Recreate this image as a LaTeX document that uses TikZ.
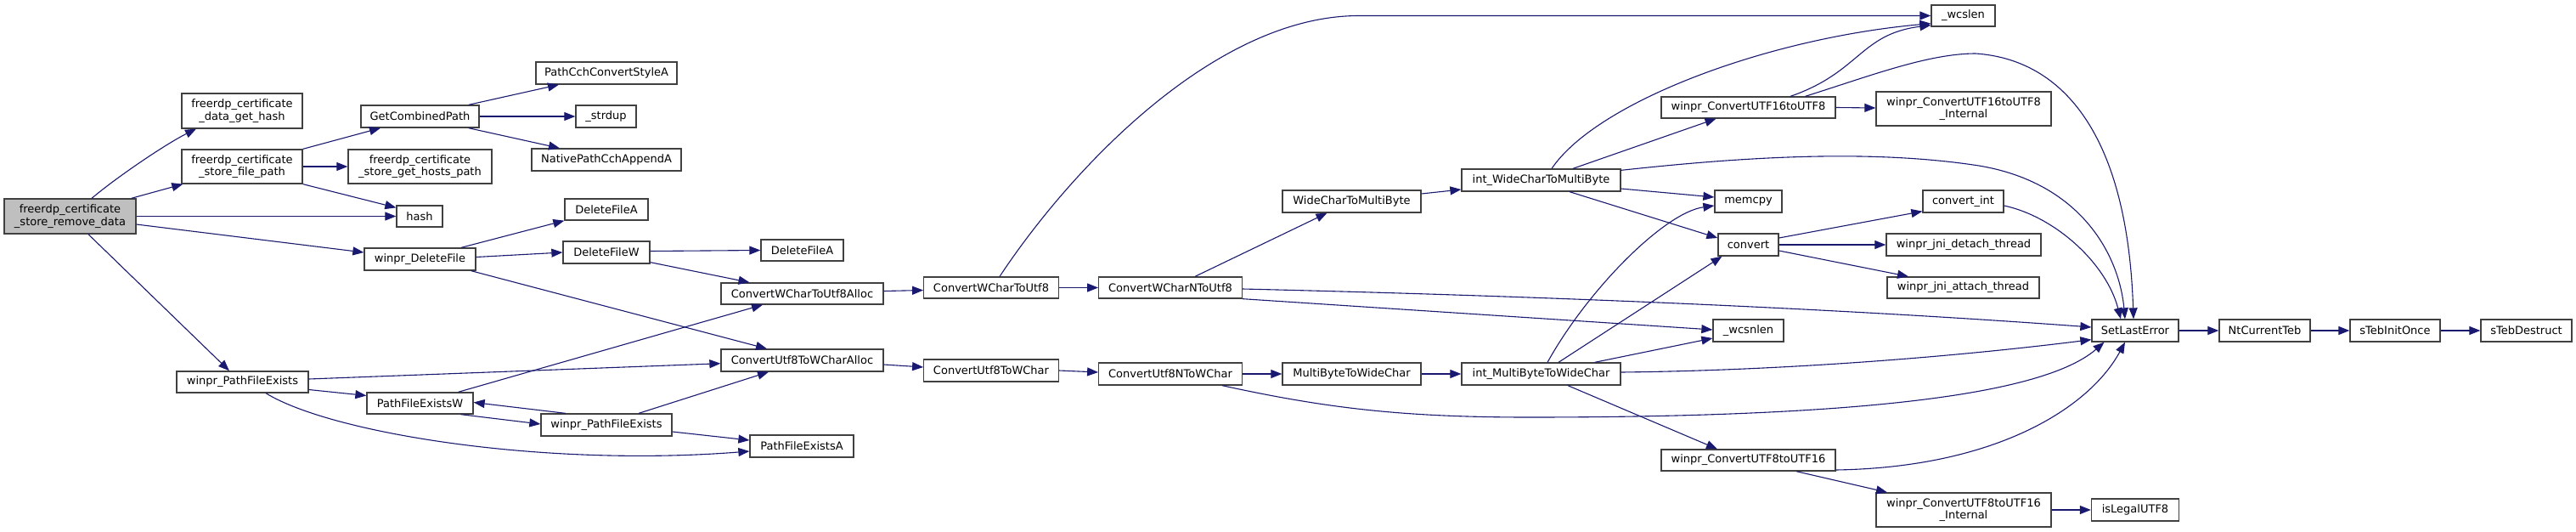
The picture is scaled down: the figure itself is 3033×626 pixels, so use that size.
\documentclass[tikz,border=0pt]{standalone}
\usepackage{fontspec}
\setmainfont{DejaVu Sans}
\usetikzlibrary{arrows.meta}
\definecolor{edgecol}{HTML}{191970}
\definecolor{bordercol}{HTML}{404040}
\definecolor{mainfill}{HTML}{BFBFBF}
\begin{document}
\begin{tikzpicture}[x=1pt,y=-1pt,
  box/.style={draw=bordercol, line width=1.3pt, fill=white, inner sep=0pt, align=center, font=\fontsize{13}{14.5}\selectfont},
  mainbox/.style={box, fill=mainfill},
  edge/.style={draw=edgecol, line width=1.1pt, -{Triangle[length=13pt,width=10pt]}},
]
\useasboundingbox (0,0) rectangle (3033,626);
% nodes
\node[mainbox, minimum width=155pt, minimum height=41pt] (main) at (82.5,254.5) {freerdp\_certificate\\\_store\_remove\_data};
\node[box, minimum width=142pt, minimum height=41pt] (dgh) at (285,130.5) {freerdp\_certificate\\\_data\_get\_hash};
\node[box, minimum width=142pt, minimum height=40pt] (sfp) at (285,196) {freerdp\_certificate\\\_store\_file\_path};
\node[box, minimum width=169pt, minimum height=40pt] (hosts) at (494.5,196) {freerdp\_certificate\\\_store\_get\_hosts\_path};
\node[box, minimum width=139pt, minimum height=26pt] (gcp) at (494.5,137) {GetCombinedPath};
\node[box, minimum width=54pt, minimum height=25pt] (hash) at (494,254.5) {hash};
\node[box, minimum width=131pt, minimum height=26pt] (wdf) at (494.5,305) {winpr\_DeleteFile};
\node[box, minimum width=155pt, minimum height=25pt] (wpfel) at (285.5,449.5) {winpr\_PathFileExists};
\node[box, minimum width=166pt, minimum height=26pt] (pcc) at (714,86) {PathCchConvertStyleA};
\node[box, minimum width=71pt, minimum height=26pt] (strdup) at (713.5,137) {\_strdup};
\node[box, minimum width=176pt, minimum height=26pt] (npa) at (714,188) {NativePathCchAppendA};
\node[box, minimum width=98pt, minimum height=25pt] (dfa1) at (714,246.5) {DeleteFileA};
\node[box, minimum width=102pt, minimum height=26pt] (dfw) at (714,297) {DeleteFileW};
\node[box, minimum width=125pt, minimum height=25pt] (pfew) at (494.5,474.5) {PathFileExistsW};
\node[box, minimum width=154pt, minimum height=26pt] (wpfer) at (714,500) {winpr\_PathFileExists};
\node[box, minimum width=97pt, minimum height=25pt] (dfa2) at (944.5,294.5) {DeleteFileA};
\node[box, minimum width=191pt, minimum height=25pt] (wua) at (944.5,345.5) {ConvertWCharToUtf8Alloc};
\node[box, minimum width=191pt, minimum height=26pt] (uwa) at (944.5,424) {ConvertUtf8ToWCharAlloc};
\node[box, minimum width=122pt, minimum height=26pt] (pfea) at (944,525) {PathFileExistsA};
\node[box, minimum width=158.5pt, minimum height=25pt] (wu) at (1167,338.5) {ConvertWCharToUtf8};
\node[box, minimum width=158.5pt, minimum height=26pt] (uw) at (1167,436) {ConvertUtf8ToWChar};
\node[box, minimum width=168.5pt, minimum height=25pt] (wnu) at (1378,338.5) {ConvertWCharNToUtf8};
\node[box, minimum width=168.5pt, minimum height=26pt] (unw) at (1378,440) {ConvertUtf8NToWChar};
\node[box, minimum width=163pt, minimum height=26pt] (wcmb) at (1591.5,237) {WideCharToMultiByte};
\node[box, minimum width=163pt, minimum height=26pt] (mbwc) at (1591.5,440) {MultiByteToWideChar};
\node[box, minimum width=187pt, minimum height=26pt] (iwc) at (1814.5,212) {int\_WideCharToMultiByte};
\node[box, minimum width=187pt, minimum height=26pt] (imb) at (1814.5,440) {int\_MultiByteToWideChar};
\node[box, minimum width=75pt, minimum height=25pt] (wcslen) at (2311.5,18.5) {\_wcslen};
\node[box, minimum width=205pt, minimum height=25pt] (c16) at (2058.5,126.5) {winpr\_ConvertUTF16toUTF8};
\node[box, minimum width=206pt, minimum height=40pt] (c16i) at (2312,128) {winpr\_ConvertUTF16toUTF8\\\_Internal};
\node[box, minimum width=79pt, minimum height=26pt] (memcpy) at (2058.5,237) {memcpy};
\node[box, minimum width=71pt, minimum height=26pt] (conv) at (2058.5,288) {convert};
\node[box, minimum width=95pt, minimum height=26pt] (convint) at (2311.5,237) {convert\_int};
\node[box, minimum width=182pt, minimum height=26pt] (detach) at (2312,288) {winpr\_jni\_detach\_thread};
\node[box, minimum width=179pt, minimum height=25pt] (attach) at (2311.5,338.5) {winpr\_jni\_attach\_thread};
\node[box, minimum width=83pt, minimum height=26pt] (wcsnlen) at (2058.5,389) {\_wcsnlen};
\node[box, minimum width=205pt, minimum height=25pt] (c8) at (2058.5,541.5) {winpr\_ConvertUTF8toUTF16};
\node[box, minimum width=206pt, minimum height=40pt] (c8i) at (2312,600) {winpr\_ConvertUTF8toUTF16\\\_Internal};
\node[box, minimum width=102pt, minimum height=26pt] (sle) at (2514,389) {SetLastError};
\node[box, minimum width=103pt, minimum height=26pt] (legal) at (2514,600) {isLegalUTF8};
\node[box, minimum width=107pt, minimum height=26pt] (ntct) at (2666.5,389) {NtCurrentTeb};
\node[box, minimum width=106pt, minimum height=26pt] (tio) at (2820,389) {sTebInitOnce};
\node[box, minimum width=107pt, minimum height=26pt] (tds) at (2974.5,389) {sTebDestruct};
% edges
\draw[edge] ([xshift=25.5pt]main.north) .. controls (138,208) and (196,169) .. ([xshift=-54pt]dgh.south);
\draw[edge] ([xshift=-6pt]main.north east) -- ([xshift=2pt]sfp.south west);
\draw[edge] (main.east) -- (hash.west);
\draw[edge] ([yshift=-9.5pt]main.east) -- ([yshift=8pt]wdf.west);
\draw[edge] ([xshift=21.5pt]main.south) -- ([xshift=-15.5pt]wpfel.north);
\draw[edge] (sfp.north east) -- ([xshift=-46.5pt]gcp.south);
\draw[edge] (sfp.east) -- (hosts.west);
\draw[edge] (sfp.south east) -- ([yshift=-3pt]hash.north west);
\draw[edge] ([xshift=-13pt]gcp.north east) -- ([xshift=-56pt]pcc.south);
\draw[edge] (gcp.east) -- (strdup.west);
\draw[edge] ([xshift=-13pt]gcp.south east) -- ([xshift=-55pt]npa.north);
\draw[edge] ([xshift=48.5pt]wdf.north) -- (dfa1.south west);
\draw[edge] ([yshift=2.5pt]wdf.east) -- (dfw.west);
\draw[edge] ([xshift=-6pt]wdf.south east) -- ([xshift=-41.5pt]uwa.north);
\draw[edge] ([yshift=1.5pt]dfw.east) -- (dfa2.west);
\draw[edge] ([yshift=2pt]dfw.south east) -- ([xshift=-62pt]wua.north);
\draw[edge] ([yshift=3.5pt]wpfel.east) -- ([yshift=-3.7pt]uwa.west);
\draw[edge] ([yshift=-9pt]wpfel.east) -- ([yshift=9pt]pfew.west);
\draw[edge] ([xshift=27.5pt]wpfel.south) .. controls (390,510) and (640,550) .. ([yshift=-6pt]pfea.west);
\draw[edge] ([xshift=45pt]pfew.north) -- ([xshift=-46.5pt]wua.south);
\draw[edge] ([xshift=48pt]pfew.south) -- ([yshift=1pt]wpfer.west);
\draw[edge] ([xshift=-48pt]wpfer.north) -- ([yshift=1pt]pfew.east);
\draw[edge] ([xshift=38pt]wpfer.north) -- ([xshift=-39.5pt]uwa.south);
\draw[edge] ([yshift=-8pt]wpfer.east) -- ([yshift=7pt]pfea.west);
\draw[edge] ([yshift=3pt]wua.east) -- ([yshift=-3pt]wu.west);
\draw[edge] ([yshift=-5pt]uwa.east) -- ([yshift=4pt]uw.west);
\draw[edge] ([xshift=10pt]wu.north) .. controls (1260,200) and (1430,18.5) .. (1600,18.5) -- (wcslen.west);
\draw[edge] (wu.east) -- (wnu.west);
\draw[edge] (uw.east) -- ([yshift=2pt]unw.west);
\draw[edge] ([xshift=29pt]wnu.north) -- ([xshift=-29pt]wcmb.south);
\draw[edge] ([yshift=-1.5pt]wnu.east) .. controls (1800,348) and (2150,362) .. ([yshift=4pt]sle.west);
\draw[edge] (wnu.south east) -- ([yshift=1pt]wcsnlen.west);
\draw[edge] (unw.east) -- (mbwc.west);
\draw[edge] (mbwc.east) -- (imb.west);
\draw[edge] ([xshift=61pt]unw.south) .. controls (1560,480) and (1650,491) .. (1800,491) .. controls (2150,491) and (2400,470) .. ([xshift=-36.5pt]sle.south);
\draw[edge] ([xshift=7.5pt]imb.north) .. controls (1870,340) and (1960,250) .. ([yshift=-5pt]memcpy.west);
\draw[edge] ([xshift=20.5pt]imb.north) -- ([xshift=-31pt]conv.south);
\draw[edge] ([xshift=-31pt]imb.north east) -- ([yshift=-9pt]wcsnlen.west);
\draw[edge] ([yshift=2pt]imb.east) .. controls (2100,436) and (2300,420) .. ([yshift=3pt]sle.south west);
\draw[edge] ([xshift=31.5pt]imb.south) -- ([xshift=-36.5pt]c8.north);
\draw[edge] ([xshift=12.5pt]iwc.north) .. controls (1880,120) and (2080,45) .. ([yshift=4pt]wcslen.south west);
\draw[edge] ([xshift=37.5pt]iwc.north) -- ([xshift=-38pt]c16.south);
\draw[edge] ([yshift=-2pt]iwc.north east) .. controls (2050,185) and (2200,175) .. (2330,195) .. controls (2450,215) and (2495,300) .. ([xshift=-12pt]sle.north);
\draw[edge] ([yshift=-10pt]iwc.east) -- ([yshift=5pt]memcpy.west);
\draw[edge] ([xshift=33.5pt]iwc.south) -- ([yshift=8pt]conv.west);
\draw[edge] ([yshift=9pt]wcmb.east) -- ([yshift=-11pt]iwc.west);
\draw[edge] ([xshift=49.5pt]c16.north) .. controls (2190,85) and (2190,40) .. ([yshift=2pt]wcslen.south west);
\draw[edge] (c16.east) -- ([yshift=1pt]c16i.west);
\draw[edge] ([xshift=67pt]c16.north) .. controls (2200,90) and (2270,63) .. (2326,63) .. controls (2430,70) and (2505,160) .. ([xshift=-2pt]sle.north);
\draw[edge] ([yshift=8pt]conv.east) -- ([yshift=2pt]convint.south west);
\draw[edge] (conv.east) -- (detach.west);
\draw[edge] ([yshift=-7pt]conv.east) -- ([xshift=-64.5pt]attach.north);
\draw[edge] ([yshift=-5pt]convint.east) .. controls (2420,255) and (2480,310) .. ([xshift=-17pt]sle.north);
\draw[edge] ([yshift=-11.5pt]c8.east) .. controls (2350,550) and (2460,480) .. ([xshift=-12pt]sle.south);
\draw[edge] ([xshift=56.5pt]c8.south) -- ([xshift=-90pt]c8i.north);
\draw[edge] (c8i.east) -- (legal.west);
\draw[edge] (sle.east) -- (ntct.west);
\draw[edge] (ntct.east) -- (tio.west);
\draw[edge] (tio.east) -- (tds.west);
\end{tikzpicture}
\end{document}
